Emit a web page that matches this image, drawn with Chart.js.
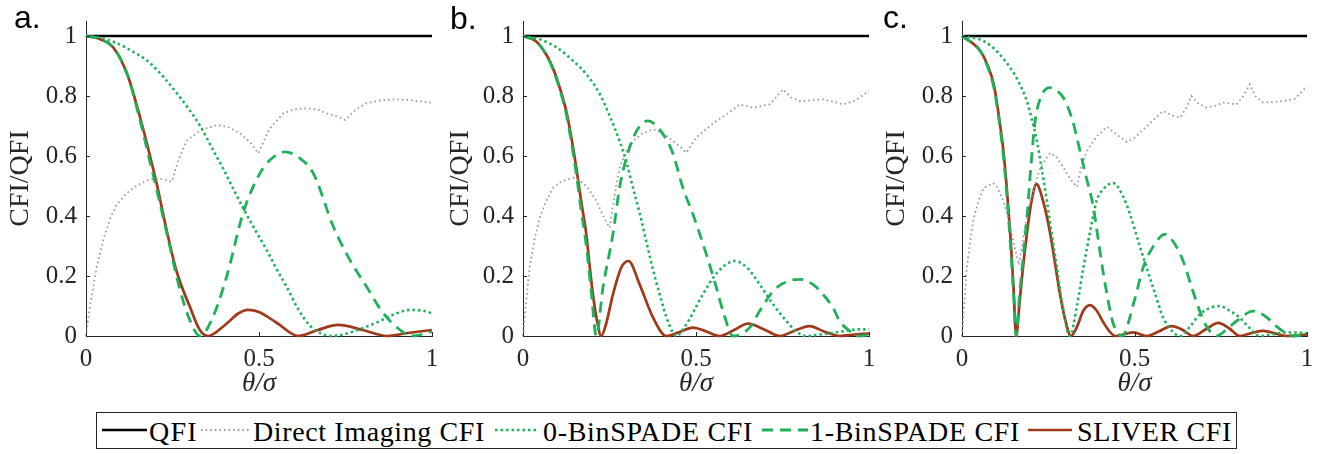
<!DOCTYPE html>
<html><head><meta charset="utf-8">
<script src="https://cdn.jsdelivr.net/npm/chart.js@4/dist/chart.umd.min.js"></script>
<style>
body{margin:0;background:#fff;width:1333px;height:454px;position:relative;overflow:hidden;}
canvas{position:absolute;top:0;}
.lab{position:absolute;font-family:"Liberation Sans",Arial,sans-serif;font-size:32px;line-height:32px;color:#000;}
#legbox{position:absolute;left:96px;top:412px;width:1141px;height:37px;border:1px solid #262626;box-sizing:border-box;}
.lt{position:absolute;top:418px;font-family:"Liberation Serif",serif;font-size:28px;line-height:28px;color:#000;white-space:nowrap;}
#legsvg{position:absolute;left:0;top:405px;}
</style></head><body>
<canvas id="ca" width="440" height="400" style="left:0px"></canvas>
<canvas id="cb" width="440" height="400" style="left:440px"></canvas>
<canvas id="cc" width="453" height="400" style="left:880px"></canvas>
<div class="lab" style="left:14px;top:1px">a.</div>
<div class="lab" style="left:450px;top:2px">b.</div>
<div class="lab" style="left:883px;top:1px">c.</div>
<div id="legbox"></div>
<svg id="legsvg" width="1333" height="49"></svg>
<script>
// ---------- data ----------
const xTickValues = [0, 0.5, 1];
const yTickValues = [0, 0.2, 0.4, 0.6, 0.8, 1];
const seriesNames = ['QFI','Direct Imaging CFI','0-BinSPADE CFI','1-BinSPADE CFI','SLIVER CFI'];

const qfiX = [0, 1];
const qfiY = [1, 1];

// panel a
const aDirX = [0,0.01,0.031,0.05,0.069,0.09,0.118,0.145,0.175,0.20,0.225,0.248,0.265,0.29,0.33,0.377,0.41,0.445,0.475,0.498,0.53,0.57,0.60,0.638,0.67,0.696,0.725,0.749,0.78,0.811,0.85,0.888,0.93,0.96,1];
const aDirY = [0,0.09,0.23,0.32,0.39,0.44,0.476,0.50,0.518,0.525,0.522,0.514,0.58,0.65,0.685,0.703,0.697,0.676,0.645,0.609,0.69,0.742,0.755,0.759,0.755,0.742,0.732,0.72,0.755,0.776,0.785,0.789,0.787,0.783,0.778];
const aBin0X = [0,0.04,0.089,0.14,0.185,0.262,0.33,0.367,0.40,0.43,0.46,0.493,0.522,0.55,0.58,0.613,0.647,0.68,0.71,0.74,0.78,0.84,0.89,0.936,0.97,1];
const aBin0Y = [1,0.995,0.976,0.945,0.91,0.81,0.70,0.62,0.55,0.48,0.414,0.345,0.287,0.225,0.164,0.09,0.035,0.008,0,0.004,0.018,0.045,0.072,0.087,0.085,0.076];
const aBin1X = [0,0.04,0.08,0.12,0.156,0.185,0.204,0.238,0.272,0.30,0.329,0.367,0.407,0.454,0.503,0.535,0.575,0.615,0.657,0.715,0.763,0.811,0.859,0.908,0.94,0.97,1];
const aBin1Y = [1,0.99,0.96,0.87,0.72,0.58,0.49,0.32,0.153,0.053,0,0.064,0.20,0.41,0.543,0.59,0.614,0.595,0.542,0.364,0.253,0.164,0.076,0.02,0,0.005,0.015];
const aSlivX = [0,0.04,0.08,0.12,0.156,0.185,0.204,0.233,0.262,0.30,0.329,0.353,0.40,0.44,0.468,0.50,0.55,0.614,0.67,0.729,0.80,0.869,0.93,1];
const aSlivY = [1,0.99,0.96,0.87,0.73,0.60,0.509,0.353,0.215,0.098,0.02,0,0.035,0.075,0.087,0.08,0.045,0,0.02,0.037,0.02,0,0.01,0.02];

// panel b
const bDirX = [0,0.008,0.019,0.033,0.048,0.067,0.087,0.11,0.145,0.173,0.19,0.212,0.232,0.25,0.265,0.279,0.30,0.318,0.345,0.376,0.405,0.434,0.455,0.472,0.50,0.53,0.559,0.59,0.626,0.665,0.713,0.735,0.751,0.775,0.80,0.83,0.867,0.90,0.925,0.96,1];
const bDirY = [0,0.1,0.228,0.32,0.394,0.45,0.494,0.515,0.528,0.511,0.49,0.45,0.40,0.361,0.47,0.561,0.62,0.65,0.675,0.689,0.675,0.65,0.63,0.611,0.661,0.69,0.717,0.74,0.772,0.761,0.772,0.80,0.822,0.795,0.783,0.785,0.789,0.78,0.772,0.785,0.817];
const bBin0X = [0,0.048,0.10,0.145,0.185,0.222,0.25,0.279,0.30,0.318,0.337,0.356,0.375,0.395,0.42,0.443,0.47,0.52,0.56,0.612,0.65,0.684,0.72,0.761,0.79,0.819,0.86,0.92,0.97,1];
const bBin0Y = [1,0.989,0.96,0.917,0.87,0.806,0.735,0.65,0.575,0.494,0.41,0.317,0.225,0.139,0.045,0,0.035,0.139,0.21,0.25,0.225,0.172,0.11,0.05,0.015,0,0.005,0.015,0.022,0.022];
const bBin1X = [0,0.04,0.077,0.10,0.125,0.14,0.154,0.168,0.183,0.197,0.212,0.231,0.26,0.279,0.299,0.328,0.361,0.405,0.434,0.462,0.491,0.53,0.559,0.578,0.607,0.655,0.684,0.723,0.76,0.80,0.838,0.867,0.896,0.915,0.944,0.973,1];
const bBin1Y = [1,0.98,0.915,0.845,0.74,0.645,0.54,0.42,0.30,0.15,0,0.161,0.34,0.494,0.594,0.683,0.717,0.672,0.606,0.494,0.406,0.272,0.161,0.083,0,0.028,0.083,0.15,0.18,0.189,0.172,0.139,0.094,0.05,0.017,0,0.005];
const bSlivX = [0,0.04,0.077,0.10,0.125,0.14,0.154,0.168,0.183,0.192,0.202,0.214,0.226,0.24,0.26,0.284,0.305,0.337,0.376,0.414,0.45,0.491,0.53,0.568,0.61,0.65,0.70,0.742,0.78,0.828,0.87,0.915,0.96,1];
const bSlivY = [1,0.98,0.917,0.85,0.75,0.66,0.561,0.45,0.339,0.24,0.139,0.05,0,0.04,0.139,0.228,0.25,0.172,0.061,0,0.012,0.028,0.015,0,0.02,0.041,0.02,0,0.015,0.033,0.015,0,0.005,0.008];

// panel c
const cDirX = [0,0.006,0.014,0.024,0.034,0.048,0.063,0.09,0.10,0.116,0.128,0.14,0.152,0.165,0.178,0.193,0.21,0.227,0.255,0.275,0.294,0.313,0.333,0.345,0.362,0.39,0.42,0.45,0.478,0.50,0.526,0.555,0.583,0.61,0.632,0.65,0.665,0.685,0.709,0.735,0.757,0.796,0.815,0.834,0.85,0.873,0.90,0.93,0.965,1];
const cDirY = [0,0.1,0.228,0.32,0.394,0.45,0.494,0.51,0.50,0.461,0.42,0.361,0.30,0.237,0.33,0.428,0.50,0.561,0.61,0.595,0.561,0.525,0.497,0.56,0.617,0.665,0.697,0.67,0.647,0.66,0.689,0.72,0.75,0.735,0.728,0.76,0.80,0.775,0.761,0.768,0.778,0.772,0.80,0.839,0.80,0.778,0.78,0.783,0.79,0.833];
const cBin0X = [0,0.063,0.10,0.14,0.165,0.188,0.203,0.217,0.232,0.246,0.26,0.275,0.29,0.313,0.333,0.352,0.37,0.39,0.41,0.438,0.465,0.487,0.51,0.535,0.56,0.583,0.61,0.632,0.66,0.689,0.72,0.747,0.775,0.805,0.835,0.863,0.9,0.94,1];
const cBin0Y = [1,0.983,0.95,0.894,0.845,0.783,0.72,0.65,0.55,0.45,0.34,0.228,0.11,0,0.10,0.228,0.34,0.45,0.49,0.51,0.47,0.406,0.32,0.228,0.14,0.061,0.015,0,0.03,0.072,0.094,0.1,0.085,0.061,0.025,0,0.006,0.012,0.01];
const cBin1X = [0,0.053,0.075,0.092,0.106,0.12,0.13,0.14,0.15,0.157,0.167,0.178,0.19,0.20,0.212,0.23,0.255,0.275,0.294,0.32,0.342,0.36,0.381,0.395,0.41,0.425,0.439,0.464,0.50,0.525,0.555,0.588,0.615,0.641,0.665,0.689,0.71,0.738,0.77,0.796,0.844,0.88,0.911,0.935,0.96,1];
const cBin1Y = [1,0.95,0.895,0.83,0.73,0.60,0.47,0.31,0.13,0,0.14,0.27,0.42,0.57,0.717,0.80,0.828,0.818,0.794,0.72,0.617,0.53,0.428,0.32,0.206,0.11,0.039,0,0.12,0.228,0.30,0.339,0.31,0.25,0.165,0.083,0.03,0,0.025,0.05,0.083,0.065,0.033,0.012,0,0.005];
const cSlivX = [0,0.053,0.075,0.092,0.106,0.12,0.13,0.14,0.149,0.157,0.166,0.176,0.188,0.20,0.216,0.235,0.256,0.27,0.284,0.30,0.316,0.333,0.352,0.371,0.39,0.41,0.43,0.445,0.47,0.497,0.535,0.57,0.608,0.64,0.67,0.71,0.743,0.775,0.805,0.84,0.873,0.91,0.94,1];
const cSlivY = [1,0.95,0.9,0.839,0.74,0.617,0.49,0.339,0.17,0,0.1,0.22,0.34,0.44,0.506,0.45,0.339,0.24,0.139,0.05,0,0.03,0.085,0.103,0.085,0.045,0.012,0,0.006,0.012,0,0.015,0.033,0.02,0,0.025,0.044,0.025,0,0.01,0.017,0.008,0,0.005];

// ---------- styles ----------
const COL = {qfi:'#000000', dir:'#9a9a9a', bin0:'#1fb05a', bin1:'#1fb05a', sliv:'#a0381a'};
const SERIF = '"Liberation Serif", "DejaVu Serif", serif';
const AXC = '#262626';

function pts(xs, ys){ return xs.map((x,i)=>({x:x, y:ys[i]})); }

const inwardTicks = {
  id:'inwardTicks',
  afterDraw(chart){
    const {ctx, chartArea:a, scales:{x,y}} = chart;
    ctx.save(); ctx.strokeStyle=AXC; ctx.lineWidth=1; ctx.beginPath();
    y.ticks.forEach(t=>{const p=Math.round(y.getPixelForValue(t.value))+0.5; ctx.moveTo(a.left,p); ctx.lineTo(a.left+4,p);});
    x.ticks.forEach(t=>{const p=Math.round(x.getPixelForValue(t.value))+0.5; ctx.moveTo(p,a.bottom); ctx.lineTo(p,a.bottom-4);});
    ctx.stroke(); ctx.restore();
  }
};

function makeChart(id, yW, padR, titlePad, d){
  const ds = [
    {label:seriesNames[3], data:pts(d.b1x,d.b1y), borderColor:COL.bin1, borderWidth:2.8, borderDash:[11,7], cubicInterpolationMode:'monotone'},
    {label:seriesNames[2], data:pts(d.b0x,d.b0y), borderColor:COL.bin0, borderWidth:2.6, borderDash:[2.5,3], cubicInterpolationMode:'monotone'},
    {label:seriesNames[1], data:pts(d.dx,d.dy), borderColor:COL.dir, borderWidth:1.8, borderDash:[1.6,3], tension:0},
    {label:seriesNames[4], data:pts(d.sx,d.sy), borderColor:COL.sliv, borderWidth:2.7, cubicInterpolationMode:'monotone'},
    {label:seriesNames[0], data:pts(qfiX,qfiY), borderColor:COL.qfi, borderWidth:2.6}
  ].map(o=>Object.assign({pointRadius:0, fill:false, clip:4}, o));
  return new Chart(document.getElementById(id), {
    type:'line',
    data:{datasets:ds},
    options:{
      responsive:false, animation:false, devicePixelRatio:1,
      layout:{padding:{left:0,right:padR,top:21,bottom:0}},
      plugins:{legend:{display:false}, tooltip:{enabled:false}},
      scales:{
        x:{type:'linear', min:0, max:1,
           afterFit:s=>{s.height=64; s.paddingLeft=0; s.paddingRight=0;},
           afterBuildTicks:s=>{s.ticks=xTickValues.map(v=>({value:v}));},
           grid:{drawOnChartArea:false, drawTicks:false},
           border:{display:true, color:AXC, width:1},
           ticks:{padding:8, color:AXC, font:{family:SERIF,size:25}, maxRotation:0, autoSkip:false, callback:v=>String(v)},
           title:{display:true, text:'θ/σ', color:AXC, font:{family:SERIF,size:27,style:'italic'}, padding:{top:0,bottom:0}}},
        y:{type:'linear', min:0, max:1.05,
           afterFit:s=>{s.width=yW; s.paddingTop=0; s.paddingBottom=0;},
           afterBuildTicks:s=>{s.ticks=yTickValues.map(v=>({value:v}));},
           grid:{drawOnChartArea:false, drawTicks:false},
           border:{display:true, color:AXC, width:1},
           ticks:{padding:9, color:AXC, font:{family:SERIF,size:25}, autoSkip:false, callback:v=>String(v)},
           title:{display:true, text:'CFI/QFI', color:AXC, font:{family:SERIF,size:28}, padding:{top:titlePad,bottom:0}}}
      }
    },
    plugins:[inwardTicks]
  });
}

makeChart('ca', 86, 8, 4, {dx:aDirX,dy:aDirY,b0x:aBin0X,b0y:aBin0Y,b1x:aBin1X,b1y:aBin1Y,sx:aSlivX,sy:aSlivY});
makeChart('cb', 83, 11, 4, {dx:bDirX,dy:bDirY,b0x:bBin0X,b0y:bBin0Y,b1x:bBin1X,b1y:bBin1Y,sx:bSlivX,sy:bSlivY});
makeChart('cc', 82, 26, 0, {dx:cDirX,dy:cDirY,b0x:cBin0X,b0y:cBin0Y,b1x:cBin1X,b1y:cBin1Y,sx:cSlivX,sy:cSlivY});

// ---------- legend ----------
const legendTextX = [149, 253, 543, 810, 1077];
const legendTextW = [49, 232, 210, 210, 155];
const legendLine = [[102,147],[201,250],[495,538],[762,808],[1028,1072]];
const legendStyle = [
  {c:COL.qfi, w:2.6, dash:''},
  {c:COL.dir, w:1.8, dash:'1.6 3'},
  {c:COL.bin0, w:2.6, dash:'2.5 3'},
  {c:COL.bin1, w:2.8, dash:'11 7'},
  {c:COL.sliv, w:2.7, dash:''}
];
const svg = document.getElementById('legsvg');
const mctx = document.createElement('canvas').getContext('2d');
mctx.font = '28px "Liberation Serif"';
seriesNames.forEach((name,i)=>{
  const l = document.createElementNS('http://www.w3.org/2000/svg','line');
  l.setAttribute('x1',legendLine[i][0]); l.setAttribute('x2',legendLine[i][1]);
  l.setAttribute('y1',25); l.setAttribute('y2',25);
  l.setAttribute('stroke',legendStyle[i].c); l.setAttribute('stroke-width',legendStyle[i].w);
  if (legendStyle[i].dash) l.setAttribute('stroke-dasharray',legendStyle[i].dash);
  svg.appendChild(l);
  const sp = document.createElement('div');
  sp.className='lt'; sp.textContent=name; sp.style.left=legendTextX[i]+'px';
  const w = mctx.measureText(name).width;
  sp.style.letterSpacing = ((legendTextW[i]-w)/name.length).toFixed(2)+'px';
  document.body.appendChild(sp);
});
</script>
</body></html>
